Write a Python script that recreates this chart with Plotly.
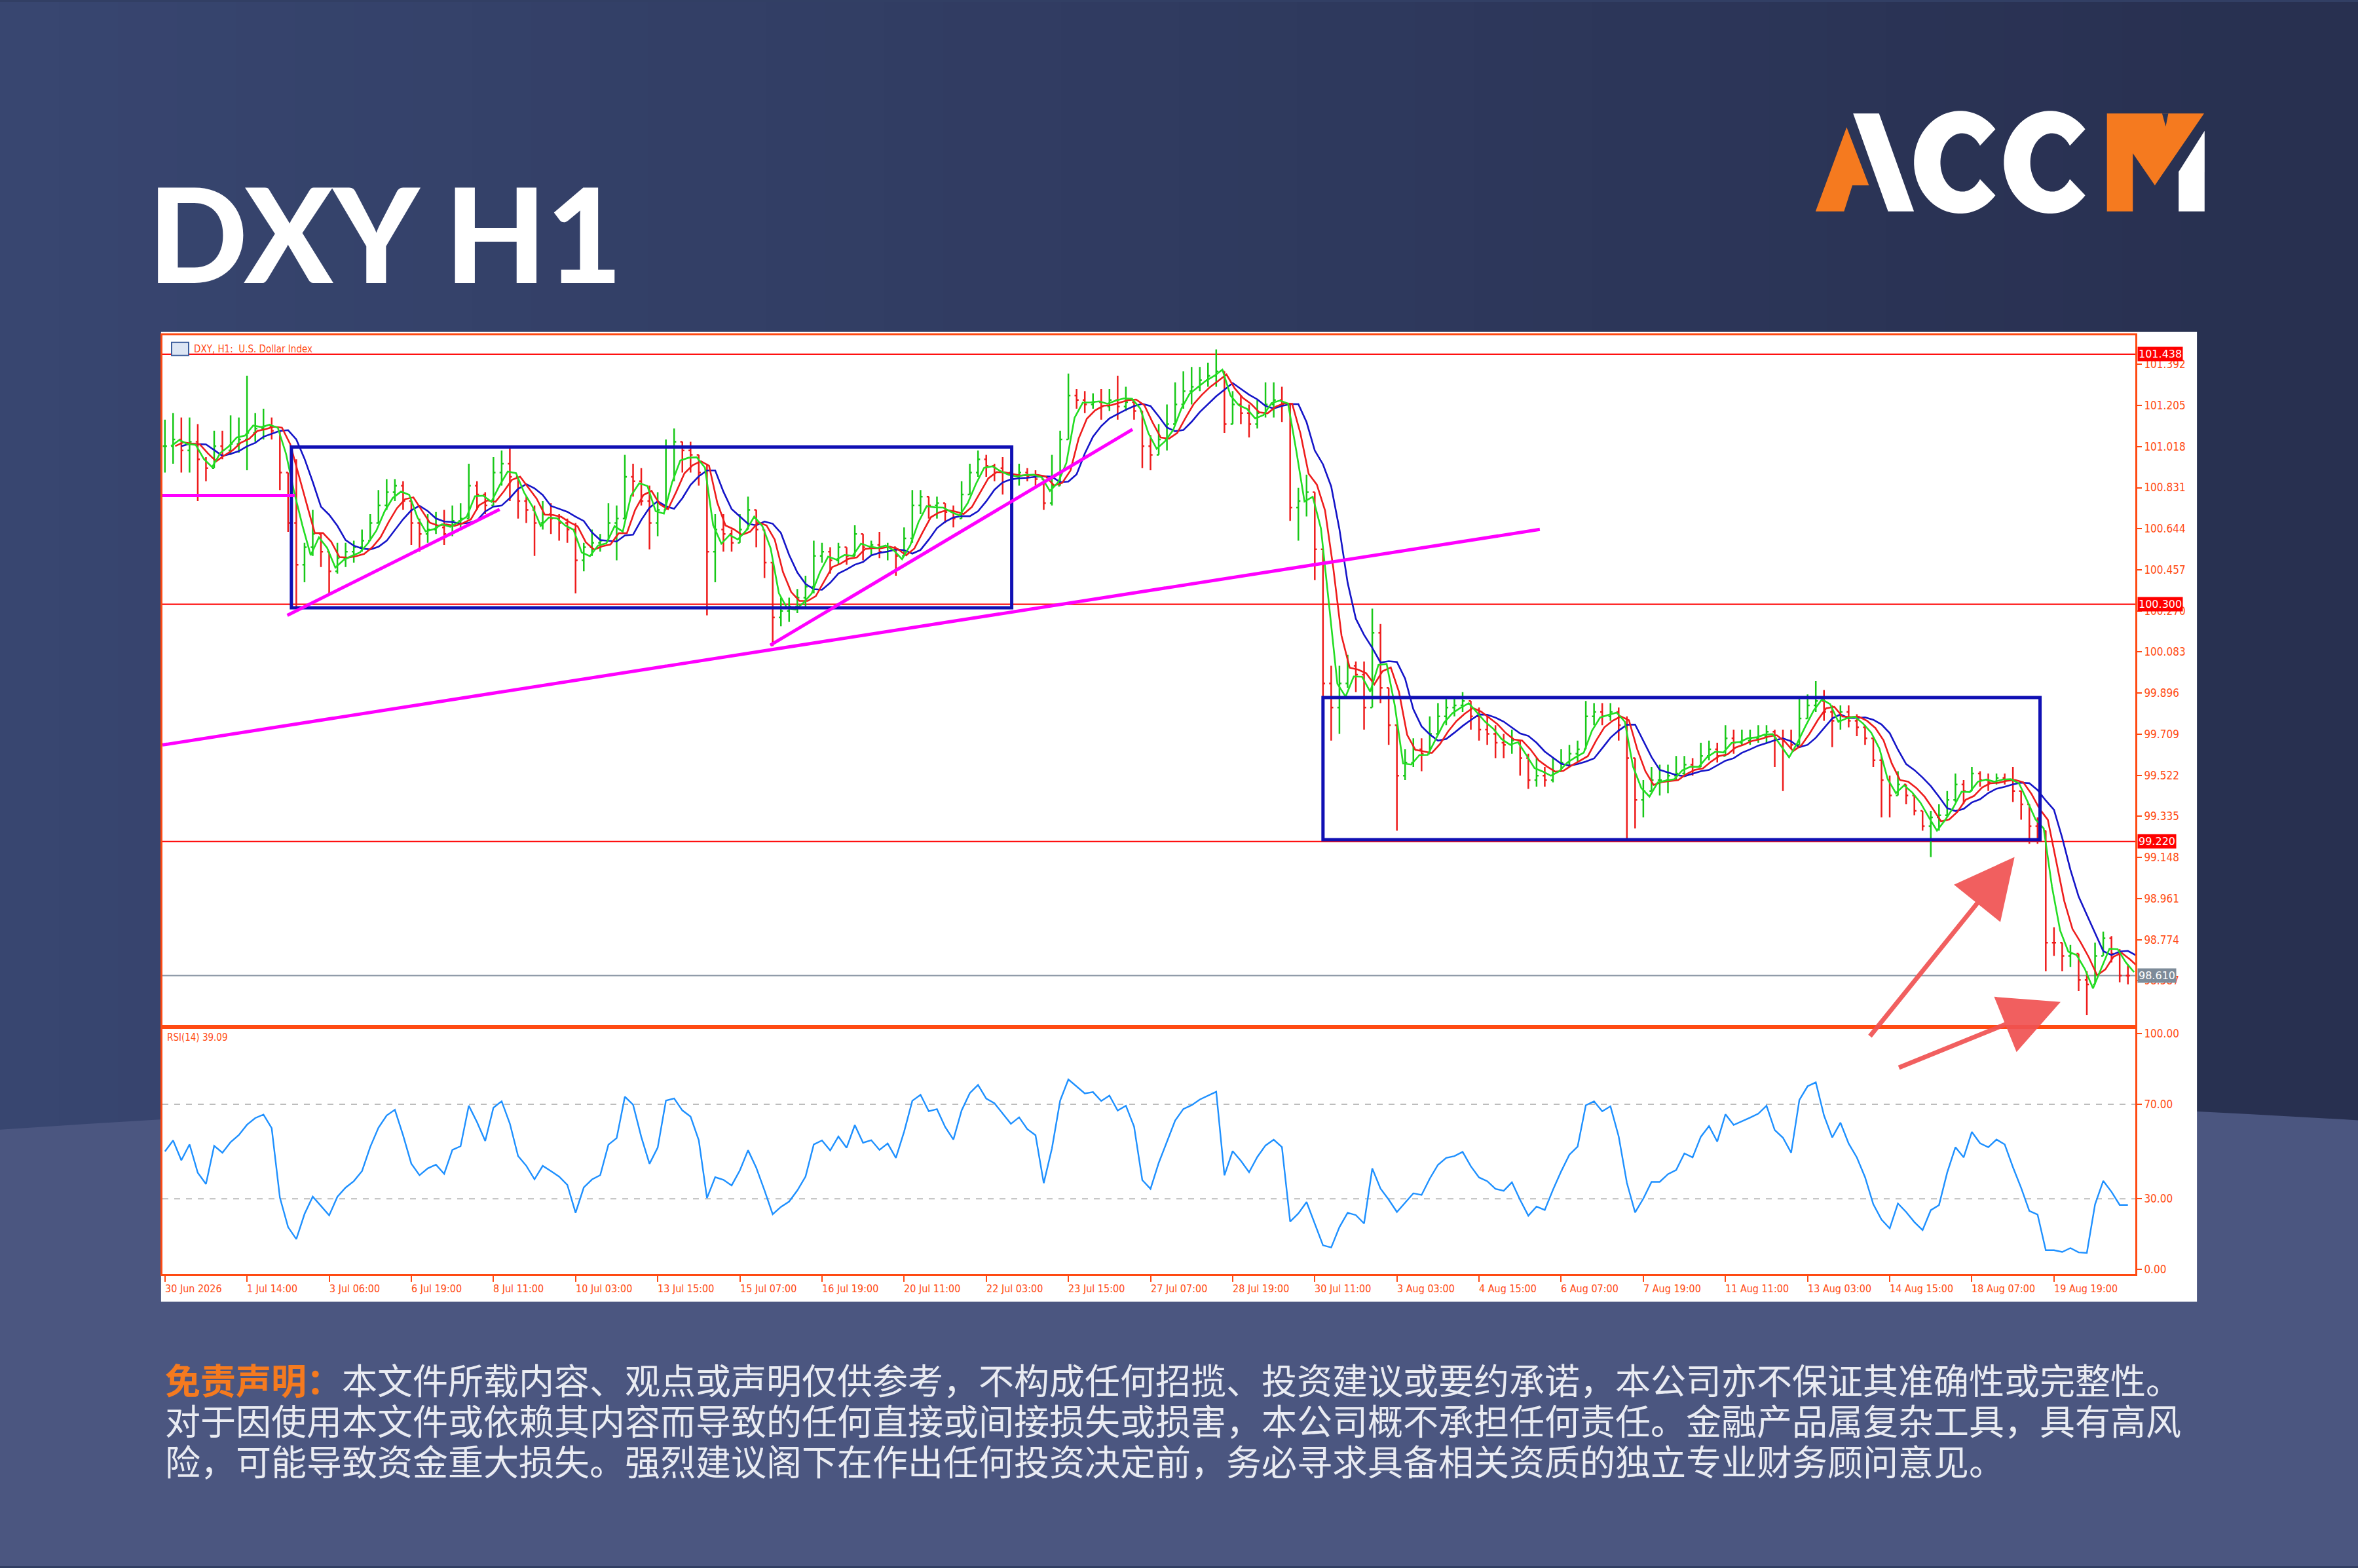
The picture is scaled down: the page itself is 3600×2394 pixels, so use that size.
import plotly.graph_objects as go
import numpy as np

# DXY H1 price bars (4 hourly bars per point)
closes = [
    101.02, 101.05, 101.00, 101.04, 100.96, 100.92, 101.02, 101.00, 101.03, 101.05,
    101.08, 101.10, 101.11, 101.09, 100.90, 100.67, 100.48, 100.56, 100.62, 100.54,
    100.45, 100.51, 100.54, 100.56, 100.59, 100.67, 100.75, 100.81, 100.84, 100.77,
    100.67, 100.62, 100.64, 100.65, 100.62, 100.68, 100.69, 100.84, 100.80, 100.75,
    100.90, 100.94, 100.88, 100.77, 100.73, 100.67, 100.71, 100.69, 100.67, 100.64,
    100.50, 100.56, 100.58, 100.59, 100.67, 100.69, 100.88, 100.86, 100.77, 100.67,
    100.73, 101.02, 101.04, 101.00, 100.98, 100.90, 100.54, 100.64, 100.62, 100.58,
    100.64, 100.73, 100.64, 100.49, 100.24, 100.27, 100.29, 100.33, 100.38, 100.52,
    100.54, 100.50, 100.56, 100.52, 100.62, 100.56, 100.57, 100.54, 100.56, 100.52,
    100.60, 100.75, 100.79, 100.75, 100.76, 100.72, 100.69, 100.80, 100.90, 100.96,
    100.93, 100.92, 100.90, 100.88, 100.90, 100.88, 100.87, 100.76, 100.84, 101.05,
    101.25, 101.23, 101.21, 101.22, 101.20, 101.23, 101.20, 101.22, 101.18, 101.02,
    100.98, 101.05, 101.12, 101.21, 101.27, 101.29, 101.32, 101.34, 101.36, 101.12,
    101.21, 101.17, 101.12, 101.17, 101.21, 101.23, 101.21, 100.74, 100.77, 100.81,
    100.55, 99.94, 99.83, 99.94, 100.02, 99.98, 99.83, 100.17, 99.92, 99.75,
    99.52, 99.58, 99.64, 99.62, 99.71, 99.79, 99.83, 99.84, 99.86, 99.79,
    99.73, 99.71, 99.67, 99.66, 99.68, 99.60, 99.50, 99.52, 99.50, 99.54,
    99.58, 99.62, 99.64, 99.79, 99.81, 99.79, 99.81, 99.75, 99.60, 99.41,
    99.45, 99.50, 99.50, 99.52, 99.53, 99.57, 99.56, 99.61, 99.64, 99.61,
    99.69, 99.67, 99.68, 99.69, 99.70, 99.72, 99.69, 99.68, 99.66, 99.78,
    99.84, 99.86, 99.81, 99.77, 99.81, 99.77, 99.74, 99.69, 99.59, 99.50,
    99.43, 99.48, 99.43, 99.36, 99.29, 99.33, 99.34, 99.41, 99.48, 99.45,
    99.53, 99.50, 99.49, 99.51, 99.50, 99.45, 99.39, 99.29, 99.27, 98.76,
    98.76, 98.70, 98.71, 98.59, 98.57, 98.70, 98.78, 98.71, 98.61, 98.61,
]
highs = [
    101.14, 101.17, 101.15, 101.15, 101.12, 100.97, 101.09, 101.09, 101.16, 101.15,
    101.34, 101.17, 101.19, 101.15, 101.09, 100.86, 100.96, 100.58, 100.73, 100.62,
    100.54, 100.58, 100.58, 100.59, 100.64, 100.71, 100.82, 100.87, 100.87, 100.86,
    100.77, 100.69, 100.71, 100.72, 100.73, 100.75, 100.76, 100.94, 100.86, 100.81,
    100.97, 101.00, 101.02, 100.86, 100.79, 100.75, 100.77, 100.76, 100.71, 100.69,
    100.67, 100.58, 100.64, 100.62, 100.76, 100.75, 100.98, 100.94, 100.92, 100.84,
    100.81, 101.05, 101.10, 101.04, 101.04, 100.96, 100.94, 100.71, 100.71, 100.64,
    100.71, 100.79, 100.71, 100.60, 100.41, 100.33, 100.33, 100.37, 100.43, 100.59,
    100.58, 100.56, 100.58, 100.56, 100.66, 100.62, 100.59, 100.63, 100.58, 100.56,
    100.65, 100.82, 100.82, 100.79, 100.79, 100.75, 100.75, 100.86, 100.94, 101.00,
    100.98, 100.94, 100.97, 100.94, 100.94, 100.92, 100.91, 100.86, 100.98, 101.09,
    101.35, 101.28, 101.27, 101.26, 101.28, 101.28, 101.34, 101.29, 101.22, 101.08,
    101.07, 101.12, 101.21, 101.31, 101.36, 101.38, 101.38, 101.40, 101.46, 101.34,
    101.27, 101.25, 101.21, 101.23, 101.31, 101.31, 101.29, 101.19, 100.83, 100.89,
    100.79, 100.49, 100.02, 100.02, 100.07, 100.04, 100.04, 100.28, 100.21, 99.88,
    99.64, 99.64, 99.69, 99.69, 99.79, 99.85, 99.88, 99.88, 99.90, 99.86,
    99.83, 99.79, 99.75, 99.71, 99.73, 99.68, 99.62, 99.60, 99.56, 99.60,
    99.64, 99.66, 99.68, 99.86, 99.85, 99.85, 99.85, 99.83, 99.79, 99.50,
    99.50, 99.56, 99.57, 99.57, 99.61, 99.61, 99.60, 99.67, 99.68, 99.67,
    99.75, 99.73, 99.73, 99.73, 99.75, 99.75, 99.73, 99.73, 99.73, 99.87,
    99.89, 99.95, 99.91, 99.84, 99.84, 99.84, 99.80, 99.75, 99.66, 99.61,
    99.52, 99.54, 99.48, 99.41, 99.36, 99.36, 99.39, 99.45, 99.53, 99.50,
    99.56, 99.54, 99.53, 99.53, 99.53, 99.56, 99.43, 99.34, 99.33, 99.23,
    98.83, 98.76, 98.75, 98.70, 98.63, 98.76, 98.81, 98.79, 98.73, 98.66,
]
lows = [
    100.90, 100.94, 100.90, 100.90, 100.77, 100.86, 100.94, 100.96, 100.98, 100.99,
    100.91, 101.04, 101.05, 101.05, 100.82, 100.63, 100.28, 100.40, 100.52, 100.47,
    100.35, 100.44, 100.47, 100.49, 100.54, 100.59, 100.67, 100.73, 100.77, 100.73,
    100.57, 100.54, 100.58, 100.62, 100.57, 100.61, 100.65, 100.69, 100.73, 100.71,
    100.79, 100.84, 100.77, 100.69, 100.67, 100.52, 100.64, 100.62, 100.59, 100.58,
    100.35, 100.45, 100.52, 100.54, 100.59, 100.50, 100.82, 100.79, 100.75, 100.55,
    100.61, 100.90, 100.86, 100.90, 100.90, 100.84, 100.25, 100.40, 100.54, 100.54,
    100.58, 100.65, 100.56, 100.42, 100.11, 100.20, 100.22, 100.26, 100.29, 100.35,
    100.49, 100.44, 100.48, 100.48, 100.54, 100.50, 100.52, 100.51, 100.50, 100.43,
    100.54, 100.58, 100.71, 100.69, 100.69, 100.67, 100.65, 100.73, 100.82, 100.88,
    100.88, 100.86, 100.80, 100.82, 100.84, 100.86, 100.84, 100.73, 100.75, 100.90,
    101.15, 101.19, 101.17, 101.19, 101.14, 101.18, 101.14, 101.18, 101.14, 100.92,
    100.91, 100.98, 101.00, 101.12, 101.19, 101.21, 101.27, 101.29, 101.29, 101.08,
    101.13, 101.12, 101.06, 101.10, 101.15, 101.15, 101.13, 100.68, 100.59, 100.70,
    100.41, 99.86, 99.68, 99.71, 99.92, 99.90, 99.73, 99.98, 99.85, 99.66,
    99.27, 99.50, 99.56, 99.54, 99.64, 99.71, 99.75, 99.79, 99.81, 99.73,
    99.68, 99.66, 99.60, 99.60, 99.62, 99.52, 99.46, 99.47, 99.47, 99.49,
    99.54, 99.56, 99.58, 99.68, 99.75, 99.75, 99.77, 99.68, 99.23, 99.28,
    99.33, 99.45, 99.43, 99.44, 99.50, 99.52, 99.52, 99.57, 99.59, 99.58,
    99.64, 99.62, 99.66, 99.66, 99.67, 99.67, 99.56, 99.45, 99.64, 99.73,
    99.78, 99.81, 99.77, 99.65, 99.73, 99.74, 99.70, 99.66, 99.56, 99.33,
    99.33, 99.43, 99.39, 99.34, 99.27, 99.15, 99.27, 99.33, 99.40, 99.39,
    99.48, 99.47, 99.45, 99.48, 99.48, 99.40, 99.32, 99.21, 99.21, 98.63,
    98.70, 98.63, 98.65, 98.54, 98.43, 98.57, 98.70, 98.67, 98.58, 98.57,
]

x_labels = [
    "30 Jun 2026", "1 Jul 14:00", "3 Jul 06:00", "6 Jul 19:00", "8 Jul 11:00",
    "10 Jul 03:00", "13 Jul 15:00", "15 Jul 07:00", "16 Jul 19:00", "20 Jul 11:00",
    "22 Jul 03:00", "23 Jul 15:00", "27 Jul 07:00", "28 Jul 19:00", "30 Jul 11:00",
    "3 Aug 03:00", "4 Aug 15:00", "6 Aug 07:00", "7 Aug 19:00", "11 Aug 11:00",
    "13 Aug 03:00", "14 Aug 15:00", "18 Aug 07:00", "19 Aug 19:00",
]
price_ticks = [101.392, 101.205, 101.018, 100.831, 100.644, 100.457, 100.270, 100.083,
               99.896, 99.709, 99.522, 99.335, 99.148, 98.961, 98.774, 98.587]
rsi_ticks = [0, 30, 70, 100]

# drawn objects on the chart
red_levels = [101.438, 100.300, 99.220]
last_price = 98.610
boxes = [(15.4, 103.1, 100.284, 101.016), (141.0, 228.3, 99.229, 99.876)]
magenta_lines = [(-0.3, 100.795, 15.8, 100.795), (14.9, 100.250, 40.75, 100.732),
                 (73.7, 100.114, 117.8, 101.096), (-0.3, 99.660, 167.4, 100.641)]
arrows = [(207.5, 98.33, 225.2, 99.15), (211.0, 98.19, 230.8, 98.49)]

disclaimer = [
    "本文件所载内容、观点或声明仅供参考，不构成任何招揽、投资建议或要约承诺，本公司亦不保证其准确性或完整性。",
    "对于因使用本文件或依赖其内容而导致的任何直接或间接损失或损害，本公司概不承担任何责任。金融产品属复杂工具，具有高风",
    "险，可能导致资金重大损失。强烈建议阁下在作出任何投资决定前，务必寻求具备相关资质的独立专业财务顾问意见。",
]

ORANGE = "#ff4a12"
LOGO_ORANGE = "#f57a1f"
W, H = 3600, 2394

c = np.array(closes)
idx = np.arange(len(c))
opens = np.concatenate([[c[0]], c[:-1]])
hi = np.maximum(np.array(highs), np.maximum(opens, c))
lo = np.minimum(np.array(lows), np.minimum(opens, c))


def smma(vals, n, start=None):
    out = np.empty(len(vals))
    out[0] = vals[0] if start is None else start
    for k in range(1, len(vals)):
        out[k] = (out[k - 1] * (n - 1) + vals[k]) / n
    return out


# Alligator (13/8/5 on H1 -> scaled to 4h points)
median = (hi + lo) / 2
jaw = smma(median, 3.25)
teeth = smma(median, 2.0)
lips = smma(median, 1.25)

# RSI on the 4h points
diff = np.diff(c, prepend=c[0])
seed = np.abs(diff[1:15]).mean() / 2
ag = smma(np.maximum(diff, 0), 7, seed)
al = smma(np.maximum(-diff, 0), 7, seed)
rsi = 100 * ag / np.maximum(ag + al, 1e-9)

fig = go.Figure()

fig.add_trace(go.Ohlc(
    x=idx, open=opens, high=hi, low=lo, close=c,
    increasing=dict(line=dict(color="#18c818", width=2.5)),
    decreasing=dict(line=dict(color="#ee1c1c", width=2.5)),
    tickwidth=0.25, xaxis="x", yaxis="y", showlegend=False, hoverinfo="skip"))
fig.add_trace(go.Scatter(x=idx + 2.0, y=jaw, mode="lines", line=dict(color="#1414c8", width=2.6),
                         xaxis="x", yaxis="y", showlegend=False))
fig.add_trace(go.Scatter(x=idx + 1.25, y=teeth, mode="lines", line=dict(color="#ee1c1c", width=2.6),
                         xaxis="x", yaxis="y", showlegend=False))
fig.add_trace(go.Scatter(x=idx + 0.75, y=lips, mode="lines", line=dict(color="#22dd22", width=2.6),
                         xaxis="x", yaxis="y", showlegend=False))
fig.add_trace(go.Scatter(x=idx, y=rsi, mode="lines", line=dict(color="#1e90ff", width=2.4),
                         xaxis="x2", yaxis="y2", showlegend=False))

shapes = []
# background gradient strips
n_strips = 40
for k in range(n_strips):
    t = k / (n_strips - 1)
    r = int(56 + (40 - 56) * t)
    g = int(70 + (48 - 70) * t)
    b = int(112 + (80 - 112) * t)
    shapes.append(dict(type="rect", xref="paper", yref="paper", x0=k / n_strips, x1=(k + 1) / n_strips + 0.002,
                       y0=0, y1=1, fillcolor=f"rgb({r},{g},{b})", line=dict(width=0), layer="below"))
# lighter lower band
shapes.append(dict(type="path", xref="paper", yref="paper",
                   path="M 0,0 L 0,0.279 Q 0.5,0.33 1,0.285 L 1,0 Z",
                   fillcolor="#4b5680", line=dict(width=0), layer="below"))
# white chart card
shapes.append(dict(type="rect", xref="paper", yref="paper", x0=0.0683, x1=0.9317, y0=0.169, y1=0.789,
                   fillcolor="white", line=dict(width=0), layer="below"))


# ACCM logo, outlined from the reference (crop coords -> paper)
def logo_pt(xz, yz):
    return (2760 + xz / 2.529) / W, 1 - (160 + yz / 3.0) / H


def logo_path(pts):
    pp = [logo_pt(a, b) for a, b in pts]
    return "M " + " L ".join(f"{a:.5f},{b:.5f}" for a, b in pp) + " Z"


def c_letter(cx):
    outer = [(cx + 178 * np.cos(np.radians(a)), 256 + 236 * np.sin(np.radians(a)))
             for a in np.linspace(40, 320, 60)]
    inner = [(cx + 8 + 84 * np.cos(np.radians(a)), 257 + 134 * np.sin(np.radians(a)))
             for a in np.linspace(325, 35, 60)]
    return outer + inner


logo_parts = [
    ([(30, 482), (150, 95), (236, 362), (172, 362), (140, 482)], LOGO_ORANGE),
    ([(175, 32), (275, 32), (410, 482), (310, 482)], "white"),
    (c_letter(588), "white"),
    (c_letter(935), "white"),
    ([(1155, 32), (1530, 32), (1340, 362), (1255, 215), (1255, 482), (1155, 482)], LOGO_ORANGE),
    ([(1368, 32), (1392, 32), (1382, 92)], "#2c3554"),
    ([(1432, 482), (1432, 300), (1532, 112), (1532, 482)], "white"),
]
for pts, col in logo_parts:
    shapes.append(dict(type="path", xref="paper", yref="paper", path=logo_path(pts),
                       fillcolor=col, line=dict(width=0), layer="above"))

for lv in red_levels:
    shapes.append(dict(type="line", xref="x", yref="y", x0=-0.3, x1=239.9, y0=lv, y1=lv,
                       line=dict(color="#ff1010", width=2.2), layer="below"))
shapes.append(dict(type="line", xref="x", yref="y", x0=-0.3, x1=239.9, y0=last_price, y1=last_price,
                   line=dict(color="#8a96a3", width=2), layer="below"))
for x0, x1, y0, y1 in boxes:
    shapes.append(dict(type="rect", xref="x", yref="y", x0=x0, x1=x1, y0=y0, y1=y1,
                       line=dict(color="#1010b4", width=5)))
for x0, y0, x1, y1 in magenta_lines:
    shapes.append(dict(type="line", xref="x", yref="y", x0=x0, x1=x1, y0=y0, y1=y1,
                       line=dict(color="#ff00ff", width=5)))
for lv in [30, 70]:
    shapes.append(dict(type="line", xref="x2", yref="y2", x0=-0.3, x1=239.9, y0=lv, y1=lv,
                       line=dict(color="#bdbdbd", width=2, dash="dash"), layer="below"))
# small MT4 window icon
shapes.append(dict(type="rect", xref="paper", yref="paper", x0=262 / W, x1=288 / W,
                   y0=1 - 541 / H, y1=1 - 521 / H, fillcolor="#dde6f4", line=dict(color="#3b5d9c", width=2)))

annotations = []
annotations.append(dict(text="DXY H1", xref="paper", yref="paper", x=224 / W, y=1 - 353 / H,
                        xanchor="left", yanchor="middle", showarrow=False,
                        font=dict(family="Lato", size=200, color="white", weight=900)))
annotations.append(dict(text="DXY, H1:  U.S. Dollar Index", xref="paper", yref="paper", x=294 / W, y=1 - 531 / H,
                        xanchor="left", yanchor="middle", showarrow=False,
                        font=dict(family="DejaVu Sans Condensed", size=15, color=ORANGE)))
annotations.append(dict(text="RSI(14) 39.09", xref="paper", yref="paper", x=253 / W, y=1 - 1585 / H,
                        xanchor="left", yanchor="middle", showarrow=False,
                        font=dict(family="DejaVu Sans Condensed", size=15, color=ORANGE)))
for k, lab in enumerate(x_labels):
    annotations.append(dict(text=lab, xref="x2", yref="paper", x=k * 10, y=1 - 1969 / H,
                            xanchor="left", yanchor="middle", showarrow=False, xshift=-2,
                            font=dict(family="DejaVu Sans Condensed", size=16, color=ORANGE)))
for lv in red_levels:
    annotations.append(dict(text=f"{lv:.3f}", xref="paper", yref="y", x=0.9065, y=lv,
                            xanchor="left", yanchor="middle", showarrow=False, bgcolor="#ff0000",
                            borderpad=1, font=dict(family="DejaVu Sans", size=16, color="white")))
annotations.append(dict(text=f"{last_price:.3f}", xref="paper", yref="y", x=0.9065, y=last_price,
                        xanchor="left", yanchor="middle", showarrow=False, bgcolor="#7d8b99",
                        borderpad=1, font=dict(family="DejaVu Sans", size=16, color="white")))
for tx, ty, hx, hy in arrows:
    annotations.append(dict(text="", x=hx, y=hy, ax=tx, ay=ty, xref="x", yref="y", axref="x", ayref="y",
                            showarrow=True, arrowhead=2, arrowsize=2.6, arrowwidth=7,
                            arrowcolor="rgba(240,82,82,0.92)"))
annotations.append(dict(text=f"<span style='color:{LOGO_ORANGE}'><b>免责声明：</b></span>{disclaimer[0]}",
                        xref="paper", yref="paper", x=250 / W, y=1 - 2108 / H,
                        xanchor="left", yanchor="middle", showarrow=False,
                        font=dict(family="Noto Sans CJK SC", size=54, color="#e9ebf2")))
for k, line in enumerate(disclaimer[1:]):
    annotations.append(dict(text=line, xref="paper", yref="paper", x=250 / W, y=1 - (2170 + 62 * k) / H,
                            xanchor="left", yanchor="middle", showarrow=False,
                            font=dict(family="Noto Sans CJK SC", size=54, color="#e9ebf2")))

axis_font = dict(family="DejaVu Sans Condensed", size=17, color=ORANGE)
x_dom = [248 / W, 3260 / W]
fig.update_layout(
    width=W, height=H, margin=dict(l=0, r=0, t=0, b=0),
    paper_bgcolor="#323f64", plot_bgcolor="white",
    shapes=shapes, annotations=annotations, hovermode=False,
    xaxis=dict(domain=x_dom, anchor="y", range=[-0.3, 239.9], showticklabels=False, showgrid=False,
               zeroline=False, showline=True, mirror=True, linecolor=ORANGE, linewidth=3,
               rangeslider=dict(visible=False), ticks=""),
    yaxis=dict(domain=[1 - 1566 / H, 1 - 510 / H], anchor="x", range=[98.385, 101.525], side="right",
               tickvals=price_ticks, ticktext=[f"{v:.3f}" for v in price_ticks], tickfont=axis_font,
               ticks="outside", ticklen=7, tickcolor=ORANGE, tickwidth=2, showgrid=False, zeroline=False,
               showline=True, mirror=True, linecolor=ORANGE, linewidth=3),
    xaxis2=dict(domain=x_dom, anchor="y2", range=[-0.3, 239.9], showticklabels=False, showgrid=False,
                zeroline=False, showline=True, mirror=True, linecolor=ORANGE, linewidth=3,
                tickvals=list(range(0, 240, 10)), ticks="outside", ticklen=9, tickcolor=ORANGE, tickwidth=2),
    yaxis2=dict(domain=[1 - 1947 / H, 1 - 1572 / H], anchor="x2", range=[-1.9, 101.9], side="right",
                tickvals=rsi_ticks, ticktext=[f"{v:.2f}" for v in rsi_ticks], tickfont=axis_font,
                ticks="outside", ticklen=7, tickcolor=ORANGE, tickwidth=2, showgrid=False, zeroline=False,
                showline=True, mirror=True, linecolor=ORANGE, linewidth=3),
)

fig.write_html("out.html", config={"displayModeBar": False},
               post_script="document.body.style.margin='0';")
